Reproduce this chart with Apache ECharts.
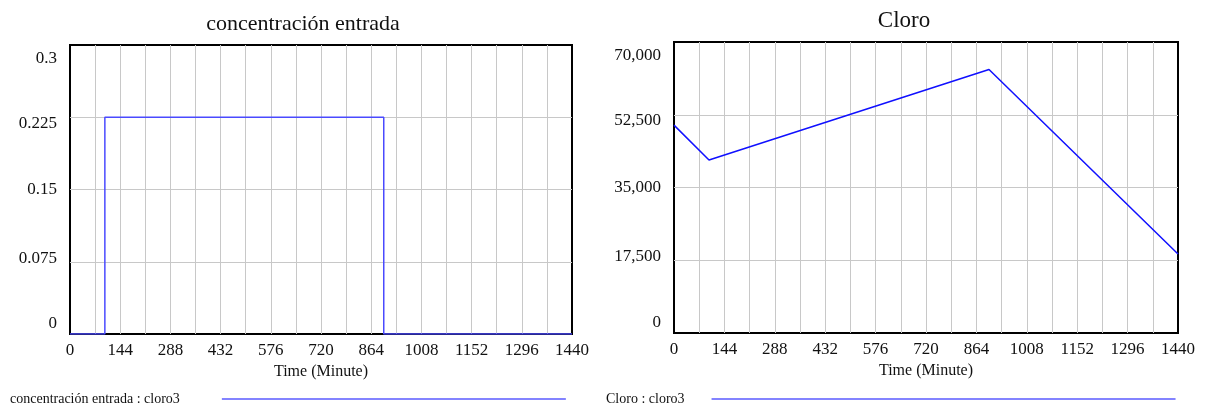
<!DOCTYPE html>
<html>
<head>
<meta charset="utf-8">
<script src="https://cdn.jsdelivr.net/npm/echarts@6/dist/echarts.min.js"></script>
<style>
html,body{margin:0;padding:0;background:#fff;}
#c{width:1205px;height:406px;}
</style>
</head>
<body>
<div id="c"></div>
<script>
// ---- data ----
var titles = ['concentración entrada', 'Cloro'];
var legendNames = ['concentración entrada : cloro3', 'Cloro : cloro3'];
var concTime = [0, 100, 100, 900, 900, 1440];
var concValue = [0, 0, 0.225, 0.225, 0, 0];
var cloroTime = [0, 100, 900, 1440];
var cloroValue = [50000, 41600, 63400, 19000];
var xTickLabels = ['0','144','288','432','576','720','864','1008','1152','1296','1440'];
var concTickLabels = ['0', '0.075', '0.15', '0.225', '0.3'];
var cloroTickLabels = ['0', '17,500', '35,000', '52,500', '70,000'];

var FONT = '"Liberation Serif", "DejaVu Serif", serif';
function pairs(xs, ys){ return xs.map(function(x,i){ return [x, ys[i]]; }); }

// Vensim-style label offsets (index 0 bottom ... 4 top)
var richY = {
  r0:{padding:[0,0,20,0], fontFamily:FONT, fontSize:17, color:'#111'},
  r1:{padding:[0,0,7,0], fontFamily:FONT, fontSize:17, color:'#111'},
  r2:{padding:[0,0,0,0], fontFamily:FONT, fontSize:17, color:'#111'},
  r3:{padding:[12,0,0,0], fontFamily:FONT, fontSize:17, color:'#111'},
  r4:{padding:[28,0,0,0], fontFamily:FONT, fontSize:17, color:'#111'}
};
function yFmt(labels, step){
  return function(v){
    var i = Math.round(v/step);
    return '{r'+i+'|'+labels[i]+'}';
  };
}
function xAxisCfg(gi){
  return {
    type:'value', gridIndex:gi, min:0, max:1440, interval:72,
    name:'Time (Minute)', nameLocation:'middle', nameGap:28,
    nameTextStyle:{fontFamily:FONT, fontSize:16, color:'#111'},
    axisLine:{show:false}, axisTick:{show:false},
    axisLabel:{fontFamily:FONT, fontSize:17, color:'#111', margin:8,
      formatter:function(v){ return v % 144 === 0 ? xTickLabels[v/144] : ''; }},
    splitLine:{show:true, showMinLine:false, showMaxLine:false, lineStyle:{color:'#c8c8c8', width:1}}
  };
}
function yAxisCfg(gi, max, step, labels){
  return {
    type:'value', gridIndex:gi, min:0, max:max, interval:step,
    axisLine:{show:false}, axisTick:{show:false},
    axisLabel:{margin:13, formatter:yFmt(labels, step), rich:richY},
    splitLine:{show:true, showMinLine:false, showMaxLine:false, lineStyle:{color:'#c8c8c8', width:1}}
  };
}
function legendCfg(name, left, padR, iw){
  return {
    data:[{name:name, itemStyle:{color:'#5a5aff'}}], left:left, top:387, align:'right', icon:'rect',
    itemWidth:iw, itemHeight:1.5, itemGap:0,
    formatter:function(n){ return '{t|'+n+'}'; },
    textStyle:{fontFamily:FONT, fontSize:14, color:'#111',
      rich:{t:{fontFamily:FONT, fontSize:14, color:'#111', padding:[0,padR,0,0]}}}
  };
}

var chart = echarts.init(document.getElementById('c'), null, {renderer:'canvas'});
chart.setOption({
  backgroundColor:'#fff',
  animation:false,
  title:[
    {text:titles[0], left:298, top:8, textAlign:'center',
     textStyle:{fontFamily:FONT, fontSize:22, fontWeight:'normal', color:'#111'}},
    {text:titles[1], left:899, top:4, textAlign:'center',
     textStyle:{fontFamily:FONT, fontSize:23, fontWeight:'normal', color:'#111'}}
  ],
  grid:[
    {left:70, right:633, top:45, bottom:72, show:true, borderColor:'#000', borderWidth:2, backgroundColor:'transparent'},
    {left:674, right:27, top:42, bottom:73, show:true, borderColor:'#000', borderWidth:2, backgroundColor:'transparent'}
  ],
  xAxis:[xAxisCfg(0), xAxisCfg(1)],
  yAxis:[yAxisCfg(0, 0.3, 0.075, concTickLabels), yAxisCfg(1, 70000, 17500, cloroTickLabels)],
  legend:[
    legendCfg(legendNames[0], 5, 37, 344),
    legendCfg(legendNames[1], 601, 22, 464)
  ],
  series:[
    {name:legendNames[0], type:'line', xAxisIndex:0, yAxisIndex:0,
     data:pairs(concTime, concValue), showSymbol:false, symbol:'none',
     color:'#4a4aff', lineStyle:{color:'#4a4aff', width:1.5}},
    {name:legendNames[1], type:'line', xAxisIndex:1, yAxisIndex:1,
     data:pairs(cloroTime, cloroValue), showSymbol:false, symbol:'none',
     color:'#1010ff', lineStyle:{color:'#1010ff', width:1.5}}
  ]
});
</script>
</body>
</html>
